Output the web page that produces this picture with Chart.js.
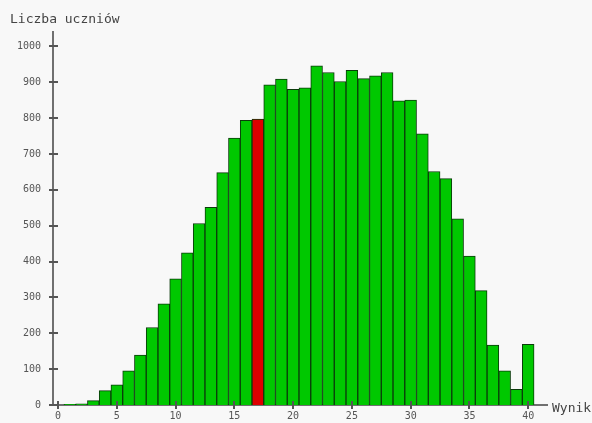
<!DOCTYPE html>
<html>
<head>
<meta charset="utf-8">
<script src="https://cdn.jsdelivr.net/npm/chart.js@4/dist/chart.umd.min.js"></script>
<style>
  html, body { margin: 0; padding: 0; background: #f8f8f8; }
  #wrap { width: 592px; height: 423px; }
</style>
</head>
<body>
<div id="wrap"><canvas id="c" width="592" height="423"></canvas></div>
<script>
// ---- data ----
const scores = [0,1,2,3,4,5,6,7,8,9,10,11,12,13,14,15,16,17,18,19,20,21,22,23,24,25,26,27,28,29,30,31,32,33,34,35,36,37,38,39,40];
const counts = [0,2,3,12,40,56,95,139,216,282,352,424,506,551,648,744,794,797,893,909,880,884,946,927,902,933,910,918,927,848,850,756,651,631,519,415,319,167,95,44,169];
const highlightScore = 17;
const xTicks = [0,5,10,15,20,25,30,35,40];
const yTicks = [0,100,200,300,400,500,600,700,800,900,1000];
const yTitle = 'Liczba uczniów';
const xTitle = 'Wynik';

const GREEN = '#00c800';
const RED = '#dd0000';
const EDGE = '#0b3b0b';
const AXIS = '#707070';
const MONO = '"DejaVu Sans Mono", "Liberation Mono", monospace';

const points = scores.map((s, i) => ({ x: s, y: counts[i] }));
const fills = scores.map(s => s === highlightScore ? RED : GREEN);

const decor = {
  id: 'decor',
  beforeDraw(chart) {
    const ctx = chart.ctx;
    ctx.save();
    ctx.fillStyle = '#f8f8f8';
    ctx.fillRect(0, 0, chart.width, chart.height);
    ctx.restore();
  },
  afterDraw(chart) {
    const ctx = chart.ctx;
    const xs = chart.scales.x, ys = chart.scales.y;
    const ax = xs.left, ay = ys.bottom;
    ctx.save();
    ctx.strokeStyle = AXIS;
    ctx.lineWidth = 2;
    ctx.beginPath();
    ctx.moveTo(ax - 4, ay); ctx.lineTo(ax, ay);
    ctx.stroke();
    ctx.strokeStyle = '#555';
    ctx.lineWidth = 2;
    yTicks.forEach(v => {
      const y = Math.round(ys.getPixelForValue(v));
      ctx.beginPath();
      ctx.moveTo(ax - 4, y); ctx.lineTo(ax + 5, y);
      ctx.stroke();
    });
    xTicks.forEach(v => {
      const x = Math.round(xs.getPixelForValue(v));
      ctx.beginPath();
      ctx.moveTo(x, ay - 4); ctx.lineTo(x, ay + 4);
      ctx.stroke();
    });
    ctx.fillStyle = '#444';
    ctx.font = '13px ' + MONO;
    ctx.textBaseline = 'middle';
    ctx.textAlign = 'left';
    ctx.fillText(yTitle, 10, 20);
    ctx.fillText(xTitle, xs.right + 5, ay + 4);
    ctx.restore();
  }
};

new Chart(document.getElementById('c'), {
  type: 'bar',
  data: {
    datasets: [{
      data: points,
      backgroundColor: fills,
      borderColor: EDGE,
      borderWidth: 1,
      barPercentage: 1,
      categoryPercentage: 1
    }]
  },
  options: {
    responsive: false,
    animation: false,
    devicePixelRatio: 1,
    layout: { padding: { left: 0, top: 32, right: 45, bottom: 0 } },
    plugins: { legend: { display: false }, tooltip: { enabled: false } },
    scales: {
      x: {
        type: 'linear',
        offset: false,
        min: -0.43,
        max: 41.6,
        grid: { display: false, drawTicks: false },
        border: { display: true, color: AXIS, width: 2 },
        afterBuildTicks: s => { s.ticks = xTicks.map(v => ({ value: v })); },
        afterFit: s => { s.height = 17; },
        ticks: { font: { family: MONO, size: 10 }, color: '#555', padding: 5, maxRotation: 0, autoSkip: false,
                 callback: v => String(v) }
      },
      y: {
        min: 0,
        max: 1040,
        grid: { display: false, drawTicks: false },
        border: { display: true, color: AXIS, width: 2 },
        afterBuildTicks: s => { s.ticks = yTicks.map(v => ({ value: v })); },
        afterFit: s => { s.width = 53; },
        ticks: { font: { family: MONO, size: 10 }, color: '#555', padding: 12, autoSkip: false,
                 callback: v => String(v) }
      }
    }
  },
  plugins: [decor]
});
</script>
</body>
</html>
